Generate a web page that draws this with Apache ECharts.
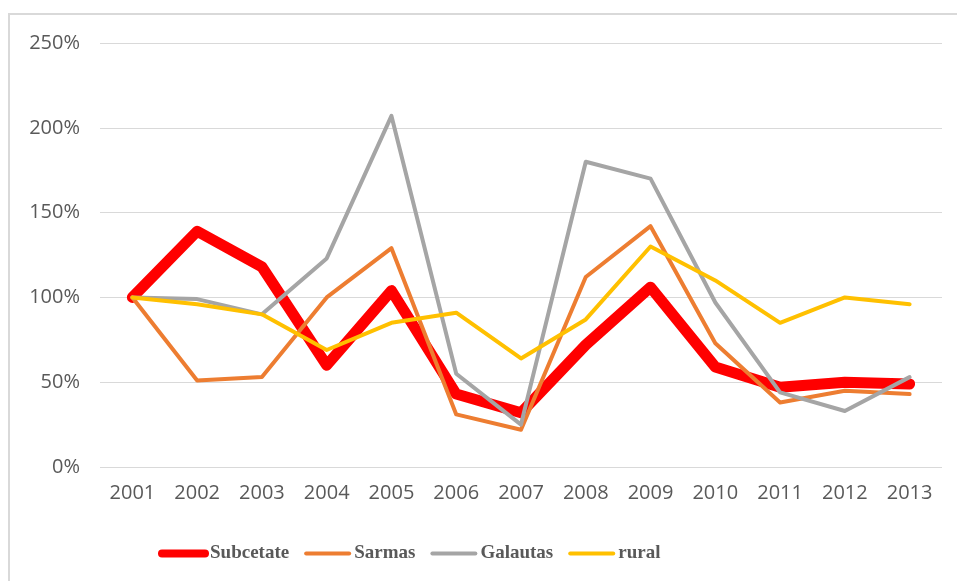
<!DOCTYPE html>
<html>
<head>
<meta charset="utf-8">
<script src="https://cdn.jsdelivr.net/npm/echarts@6/dist/echarts.min.js"></script>
<style>
  html, body { margin: 0; padding: 0; background: #fff; }
  #chart { width: 957px; height: 581px; }
</style>
</head>
<body>
<div id="chart"></div>
<script>
const years = ['2001', '2002', '2003', '2004', '2005', '2006', '2007', '2008', '2009', '2010', '2011', '2012', '2013']
const subcetate = [100, 139, 118, 60, 104, 43, 32, 72, 106, 59, 47, 50, 49]
const sarmas = [100, 51, 53, 100, 129, 31, 22, 112, 142, 73, 38, 45, 43]
const galautas = [100, 99, 90, 123, 207, 55, 25, 180, 170, 97, 44, 33, 53]
const rural = [100, 96, 90, 69, 85, 91, 64, 87, 130, 110, 85, 100, 96]

const chart = echarts.init(document.getElementById('chart'))

const makeLine = (name, data, color, width) => ({
  name,
  type: 'line',
  data,
  symbol: 'none',
  lineStyle: { color, width, cap: 'round', join: 'round' },
  itemStyle: { color }
})

const legendItem = (name, width) => ({
  name,
  itemStyle: { opacity: 0 },
  lineStyle: { width, cap: 'round' }
})

chart.setOption({
  animation: false,
  graphic: [
    {
      type: 'rect',
      shape: { x: 9, y: 14, width: 960, height: 580 },
      style: { fill: 'none', stroke: '#D9D9D9', lineWidth: 2 },
      silent: true
    }
  ],
  grid: {
    left: 100,
    right: 15,
    top: 43,
    bottom: 114
  },
  legend: {
    left: 153,
    top: 539,
    itemWidth: 43,
    itemHeight: 14,
    itemGap: 15,
    textStyle: {
      fontFamily: 'Liberation Serif',
      fontWeight: 'bold',
      fontSize: 19,
      color: '#595959'
    },
    data: [
      legendItem('Subcetate', 8),
      legendItem('Sarmas', 4),
      legendItem('Galautas', 4),
      legendItem('rural', 4)
    ]
  },
  xAxis: {
    type: 'category',
    data: years,
    boundaryGap: true,
    axisLine: { show: false },
    axisTick: { show: false },
    axisLabel: {
      fontFamily: 'Open Sans',
      fontSize: 20,
      color: '#595959',
      margin: 16
    }
  },
  yAxis: {
    type: 'value',
    min: 0,
    max: 250,
    interval: 50,
    axisLine: { show: false },
    axisTick: { show: false },
    splitLine: { lineStyle: { color: '#D9D9D9', width: 1 } },
    axisLabel: {
      fontFamily: 'Open Sans',
      fontSize: 20,
      color: '#595959',
      margin: 20,
      formatter: (v) => v + '%'
    }
  },
  series: [
    makeLine('Subcetate', subcetate, '#FF0000', 11),
    makeLine('Sarmas', sarmas, '#ED7D31', 4),
    makeLine('Galautas', galautas, '#A5A5A5', 4),
    makeLine('rural', rural, '#FFC000', 4)
  ]
})
</script>
</body>
</html>
